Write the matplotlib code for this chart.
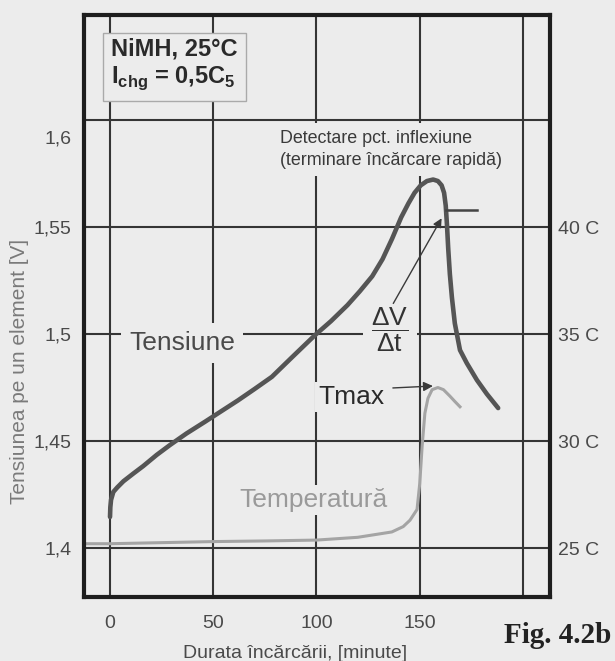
import numpy as np
import matplotlib
matplotlib.use('Agg')
import matplotlib.pyplot as plt
from matplotlib.transforms import ScaledTranslation

# Values (NiMH charge curve)
volt_min = [0, 0.15, 0.5, 1.6, 3.5, 6.5, 11.3, 16.1, 22.6, 29, 37, 46, 54, 62,
            70, 78.4, 88, 99.3, 107, 115, 121, 127, 132, 136.6, 141, 144.5,
            147.5, 150.5, 153.5, 156.5, 158.8, 160.6, 161.8, 162.6, 163.2,
            163.8, 164.6, 165.6, 167, 169.5, 172.8, 177.7, 182.5, 188]
volt_v = [1.4145, 1.419, 1.4225, 1.4262, 1.4283, 1.4312, 1.4348, 1.4383, 1.4435,
          1.4481, 1.4535, 1.459, 1.464, 1.469, 1.4743, 1.480, 1.489, 1.4995,
          1.506, 1.5135, 1.520, 1.527, 1.535, 1.5445, 1.5545, 1.561, 1.566,
          1.5695, 1.5715, 1.5722, 1.5715, 1.5695, 1.566, 1.560, 1.551, 1.540,
          1.528, 1.517, 1.505, 1.4925, 1.4864, 1.4785, 1.472, 1.4654]

temp_min = [-12.6, 0, 25, 50, 75, 100, 120, 136.5, 142, 145.3, 148.7, 150,
            151.2, 152.5, 154, 156, 158.8, 161.5, 164.6, 167, 169.5]
temp_c = [25.2, 25.2, 25.25, 25.3, 25.33, 25.37, 25.5, 25.75, 26.0, 26.3,
          26.8, 28.0, 29.8, 31.3, 32.0, 32.4, 32.5, 32.4, 32.1, 31.85, 31.6]

x_ticks = [0, 50, 100, 150, 200]
x_tick_labels = ['0', '50', '100', '150', '']
v_ticks = [1.4, 1.45, 1.5, 1.55, 1.6]
v_tick_labels = ['1,4', '1,45', '1,5', '1,55', '1,6']
t_ticks = [25, 30, 35, 40]
t_tick_labels = ['25 C', '30 C', '35 C', '40 C']

# short horizontal marker next to the voltage peak
flat_min = [162.5, 177.7]
flat_v = [1.558, 1.558]


def c_to_v(c):
    return 1.4 + (np.asarray(c) - 25) / 100.0


def v_to_c(v):
    return 25 + (np.asarray(v) - 1.4) * 100.0


plt.rcParams['font.family'] = ['Liberation Sans', 'DejaVu Sans']
plt.rcParams['mathtext.fontset'] = 'dejavusans'

bg = '#ececec'
grid_col = '#353535'

fig = plt.figure(figsize=(6.15, 6.61), dpi=100, facecolor=bg)
ax = fig.add_axes([84 / 615, 1 - 597 / 661, 466 / 615, 582 / 661])
ax.set_facecolor(bg)

ax.set_xlim(-12.6, 213.1)
ax.set_ylim(1.3771, 1.6491)
ax.set_xticks(x_ticks)
ax.set_xticklabels(x_tick_labels)
ax.set_yticks(v_ticks)
ax.set_yticklabels(v_tick_labels)
ax.grid(True, color=grid_col, lw=1.5)
ax.set_axisbelow(True)
for s in ax.spines.values():
    s.set_linewidth(3)
    s.set_color('#1e1e1e')
ax.tick_params(axis='both', length=0, labelsize=14, labelcolor='#4a4a4a')
ax.tick_params(axis='x', pad=13)
ax.tick_params(axis='y', pad=9)

# temperature scale on the right
sec = ax.secondary_yaxis('right', functions=(v_to_c, c_to_v))
sec.set_yticks(t_ticks)
sec.set_yticklabels(t_tick_labels)
sec.tick_params(length=0, labelsize=14, labelcolor='#4a4a4a', pad=6)
sec.spines['right'].set_visible(False)

# curves
ax.plot(volt_min, volt_v, color='#555555', lw=3.3, solid_capstyle='round',
        solid_joinstyle='round', zorder=2)
ax.plot(temp_min, c_to_v(temp_c), color='#a4a4a4', lw=2.2,
        solid_joinstyle='round', zorder=2)
ax.plot(flat_min, flat_v, color='#444444', lw=1.8, zorder=2)

# labels / annotations
box = dict(facecolor=bg, edgecolor='none', pad=2)
ax.text(34.9, 1.4958, 'Tensiune', fontsize=19, color='#4a4a4a', ha='center',
        va='center', bbox=dict(facecolor=bg, edgecolor='none', pad=6))
ax.text(116.9, 1.4706, 'Tmax', fontsize=19, color='#2a2a2a', ha='center',
        va='center', bbox=box)
ax.text(98.5, 1.4224, 'Temperatură', fontsize=19, color='#9a9a9a', ha='center',
        va='center', bbox=box)
ax.text(135.6, 1.5019, r'$\dfrac{\mathregular{ΔV}}{\mathregular{Δt}}$',
        fontsize=19, color='#333333', ha='center', va='center',
        bbox=dict(facecolor=bg, edgecolor='none', pad=6))
ax.text(82.3, 1.5862, 'Detectare pct. inflexiune\n(terminare încărcare rapidă)',
        fontsize=12.9, color='#3a3a3a', ha='left', va='center', linespacing=1.35,
        bbox=dict(facecolor=bg, edgecolor='none', pad=5))

ax.annotate('', xy=(160.6, 1.5541), xytext=(137.2, 1.5143),
            arrowprops=dict(arrowstyle='-|>', color='#3a3a3a', lw=1.0,
                            mutation_scale=13, shrinkA=0, shrinkB=0))
ax.annotate('', xy=(156.4, 1.4757), xytext=(137.0, 1.4748),
            arrowprops=dict(arrowstyle='-|>', color='#3a3a3a', lw=1.0,
                            mutation_scale=14, shrinkA=0, shrinkB=0))

ax.text(0.058, 0.962, 'NiMH, 25°C\n' + r'I$_{\mathregular{chg}}$ = 0,5C$_{\mathregular{5}}$',
        transform=ax.transAxes, fontsize=17, fontweight='bold', color='#2a2a2a',
        ha='left', va='top', linespacing=1.25,
        bbox=dict(facecolor=bg, edgecolor='#aaaaaa', lw=1, pad=6))

ax.set_xlabel('Durata încărcării, [minute]', fontsize=14, color='#4a4a4a')
ax.xaxis.set_label_coords(0.453, -0.082)
ax.set_ylabel('Tensiunea pe un element [V]', fontsize=15, color='#7a7a7a')
ax.yaxis.set_label_coords(-0.118, 0.387)

fig.text(0.906, 0.039, 'Fig. 4.2b', fontsize=21, fontweight='bold',
         family='Liberation Serif', color='#222222', ha='center', va='center')

# the "1,6" label sits a bit below its grid line in the original
lab = ax.yaxis.get_major_ticks()[-1].label1
lab.set_transform(lab.get_transform() + ScaledTranslation(0, -0.17, fig.dpi_scale_trans))

fig.savefig('out.png', dpi=100, facecolor=bg)
